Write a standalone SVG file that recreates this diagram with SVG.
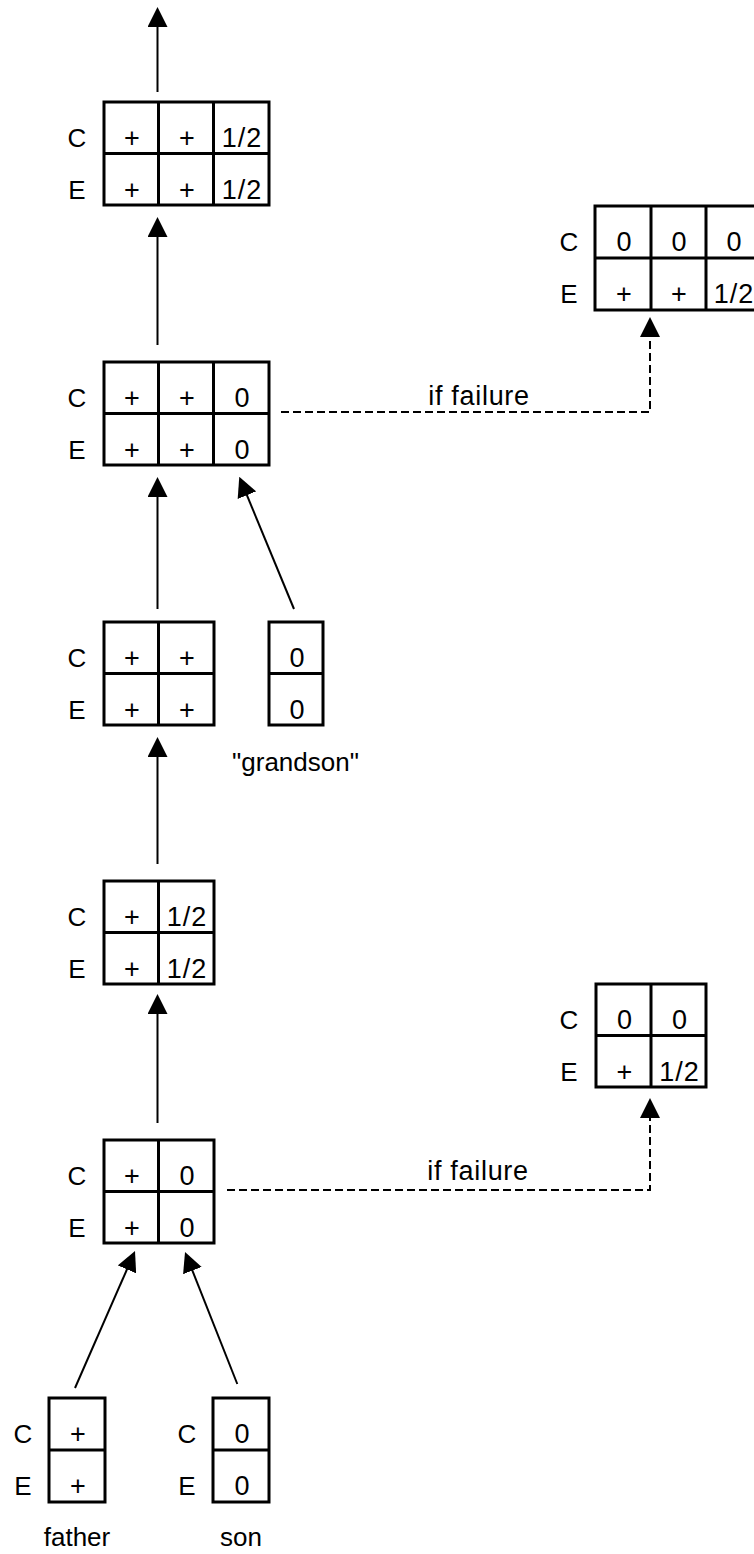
<svg xmlns="http://www.w3.org/2000/svg" width="754" height="1554" viewBox="0 0 754 1554">
<style>
.box{fill:none;stroke:#000;stroke-width:3}
.t{font-family:"Liberation Sans",Arial,sans-serif;font-size:26px;text-anchor:middle;fill:#000}
.v{font-size:27px}
.h{letter-spacing:1px}
.lbl{font-size:27px;letter-spacing:0.7px}
.conn{fill:none;stroke:#000;stroke-width:2}
.dash{stroke-dasharray:8 4}
</style>
<defs>
<marker id="ah" markerUnits="userSpaceOnUse" markerWidth="20" markerHeight="20" viewBox="0 0 20 20" refX="16" refY="10" orient="auto">
<path d="M0,0 L20,10 L0,20 z" fill="#000" stroke="none"/>
</marker>
</defs>
<rect width="754" height="1554" fill="#fff"/>

<g id="connectors">
<path class="conn" d="M157.5,92 V11" marker-end="url(#ah)"/>
<path class="conn" d="M157.5,345 V221" marker-end="url(#ah)"/>
<path class="conn" d="M157.5,609 V481" marker-end="url(#ah)"/>
<path class="conn" d="M294,609 L240.8,480.4" marker-end="url(#ah)"/>
<path class="conn" d="M157.5,864 V741" marker-end="url(#ah)"/>
<path class="conn" d="M157.5,1123 V998" marker-end="url(#ah)"/>
<path class="conn" d="M75,1388 L133.4,1254.7" marker-end="url(#ah)"/>
<path class="conn" d="M237.3,1384 L186.5,1255.7" marker-end="url(#ah)"/>
<path class="conn dash" d="M281,412 H650 V321" marker-end="url(#ah)"/>
<path class="conn dash" d="M227,1190 H650 V1102" marker-end="url(#ah)"/>
<text class="t lbl" x="479" y="405">if failure</text>
<text class="t lbl" x="478" y="1180">if failure</text>
</g>

<g id="node-top">
<rect class="box" x="104" y="102" width="165" height="103"/>
<path class="box" d="M158.5,102V205 M213.5,102V205 M104,153.5H269"/>
<text class="t" x="77" y="146.5">C</text>
<text class="t" x="77" y="198.5">E</text>
<text class="t v" x="132" y="146.5">+</text>
<text class="t v" x="187" y="146.5">+</text>
<text class="t v h" x="242" y="146.5">1/2</text>
<text class="t v" x="132" y="198.5">+</text>
<text class="t v" x="187" y="198.5">+</text>
<text class="t v h" x="242" y="198.5">1/2</text>
</g>

<g id="node-fail1">
<rect class="box" x="595" y="206" width="166" height="104"/>
<path class="box" d="M651,206V310 M706,206V310 M595,258H761"/>
<text class="t" x="569" y="250.5">C</text>
<text class="t" x="569" y="302.5">E</text>
<text class="t v" x="624" y="250.5">0</text>
<text class="t v" x="679" y="250.5">0</text>
<text class="t v" x="734" y="250.5">0</text>
<text class="t v" x="624" y="302.5">+</text>
<text class="t v" x="679" y="302.5">+</text>
<text class="t v h" x="734" y="302.5">1/2</text>
</g>

<g id="node-level3">
<rect class="box" x="104" y="362" width="165" height="103"/>
<path class="box" d="M158.5,362V465 M213.5,362V465 M104,413.5H269"/>
<text class="t" x="77" y="406.5">C</text>
<text class="t" x="77" y="458.5">E</text>
<text class="t v" x="132" y="406.5">+</text>
<text class="t v" x="187" y="406.5">+</text>
<text class="t v" x="242" y="406.5">0</text>
<text class="t v" x="132" y="458.5">+</text>
<text class="t v" x="187" y="458.5">+</text>
<text class="t v" x="242" y="458.5">0</text>
</g>

<g id="node-level2">
<rect class="box" x="104" y="622" width="110" height="103"/>
<path class="box" d="M158.5,622V725 M104,673.5H214"/>
<text class="t" x="77" y="666.5">C</text>
<text class="t" x="77" y="718.5">E</text>
<text class="t v" x="132" y="666.5">+</text>
<text class="t v" x="187" y="666.5">+</text>
<text class="t v" x="132" y="718.5">+</text>
<text class="t v" x="187" y="718.5">+</text>
</g>

<g id="node-grandson">
<rect class="box" x="269" y="622" width="54" height="103"/>
<path class="box" d="M269,673.5H323"/>
<text class="t v" x="297" y="666.5">0</text>
<text class="t v" x="297" y="718.5">0</text>
<text class="t" x="295.5" y="771">"grandson"</text>
</g>

<g id="node-level1">
<rect class="box" x="104" y="881" width="110" height="103"/>
<path class="box" d="M158.5,881V984 M104,932.5H214"/>
<text class="t" x="77" y="925.5">C</text>
<text class="t" x="77" y="977.5">E</text>
<text class="t v" x="132" y="925.5">+</text>
<text class="t v h" x="187" y="925.5">1/2</text>
<text class="t v" x="132" y="977.5">+</text>
<text class="t v h" x="187" y="977.5">1/2</text>
</g>

<g id="node-fail2">
<rect class="box" x="596" y="984" width="110" height="103"/>
<path class="box" d="M651,984V1087 M596,1035.5H706"/>
<text class="t" x="569" y="1028.5">C</text>
<text class="t" x="569" y="1080.5">E</text>
<text class="t v" x="624.5" y="1028.5">0</text>
<text class="t v" x="679.5" y="1028.5">0</text>
<text class="t v" x="624.5" y="1080.5">+</text>
<text class="t v h" x="679.5" y="1080.5">1/2</text>
</g>

<g id="node-level0">
<rect class="box" x="104" y="1140" width="110" height="103"/>
<path class="box" d="M158.5,1140V1243 M104,1191.5H214"/>
<text class="t" x="77" y="1184.5">C</text>
<text class="t" x="77" y="1236.5">E</text>
<text class="t v" x="132" y="1184.5">+</text>
<text class="t v" x="187" y="1184.5">0</text>
<text class="t v" x="132" y="1236.5">+</text>
<text class="t v" x="187" y="1236.5">0</text>
</g>

<g id="node-father">
<rect class="box" x="49" y="1398" width="56" height="104"/>
<path class="box" d="M49,1450H105"/>
<text class="t" x="23" y="1442.5">C</text>
<text class="t" x="23" y="1494.5">E</text>
<text class="t v" x="78" y="1442.5">+</text>
<text class="t v" x="78" y="1494.5">+</text>
<text class="t" x="77" y="1546">father</text>
</g>

<g id="node-son">
<rect class="box" x="213" y="1398" width="56" height="104"/>
<path class="box" d="M213,1450H269"/>
<text class="t" x="187" y="1442.5">C</text>
<text class="t" x="187" y="1494.5">E</text>
<text class="t v" x="242" y="1442.5">0</text>
<text class="t v" x="242" y="1494.5">0</text>
<text class="t" x="241" y="1546">son</text>
</g>
</svg>
